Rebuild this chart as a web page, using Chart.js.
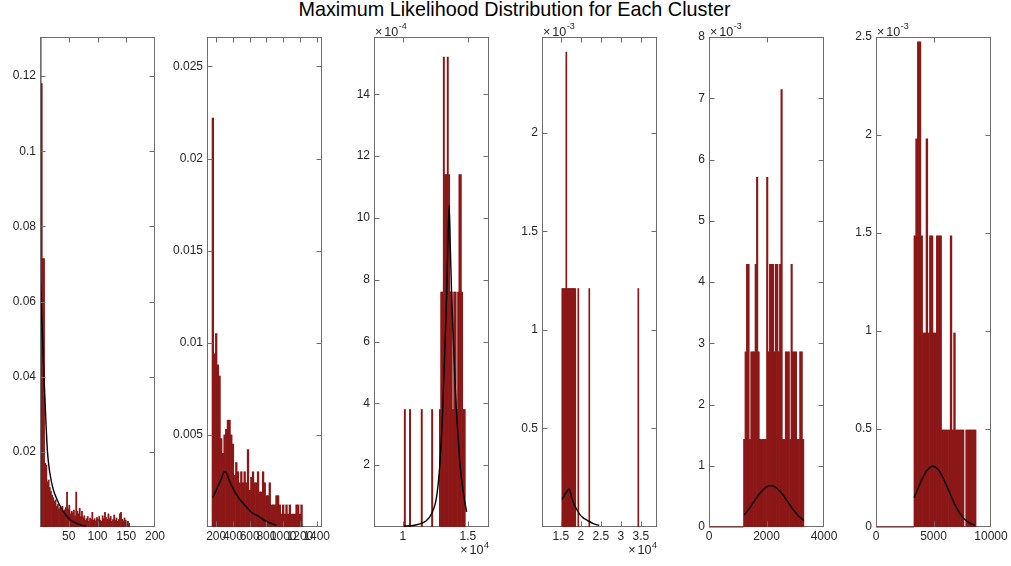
<!DOCTYPE html>
<html><head><meta charset="utf-8">
<script src="https://cdn.jsdelivr.net/npm/chart.js@4.4.1/dist/chart.umd.min.js"></script>
<style>
html,body{margin:0;padding:0;background:#fff;}
#wrap{position:relative;width:1011px;height:566px;overflow:hidden;background:#fff;}
canvas{position:absolute;left:0;top:0;}
#title{position:absolute;left:9px;width:1011px;top:0;text-align:center;font-family:'Liberation Sans',Arial,sans-serif;font-size:19.8px;line-height:19.8px;color:#000;white-space:nowrap;}
</style></head><body>
<div id="wrap">
<div id="title">Maximum Likelihood Distribution for Each Cluster</div>
<canvas id="c1" width="1011" height="566"></canvas>
<canvas id="c2" width="1011" height="566"></canvas>
<canvas id="c3" width="1011" height="566"></canvas>
<canvas id="c4" width="1011" height="566"></canvas>
<canvas id="c5" width="1011" height="566"></canvas>
<canvas id="c6" width="1011" height="566"></canvas>
</div>
<script>
// ---------- Cluster 1 ----------
const p1BinX = [1,3,5,7,9,11,13,15,17,19,21,23,25,27,29,31,33,35,37,39,41,43,45,47,49,51,53,55,57,59,61,63,65,67,69,71,73,75,77,79,81,83,85,87,89,91,93,95,97,99,101,103,105,107,109,111,113,115,117,119,121,123,125,127,129,131,133,135,137,139,141,143,145,147,149,151,153,155];
const p1BinY = [0.14,0.118,0.0714,0.0714,0.017,0.0165,0.012,0.0125,0.0105,0.0095,0.0085,0.0078,0.0068,0.0072,0.0055,0.006,0.0048,0.0052,0.0044,0.0055,0.0038,0.0046,0.0052,0.0093,0.0048,0.0058,0.0035,0.0042,0.0038,0.0045,0.003,0.0093,0.0042,0.0035,0.005,0.0028,0.0042,0.0025,0.003,0.0018,0.0022,0.0028,0.0015,0.0024,0.002,0.0039,0.0018,0.0022,0.0016,0.0025,0.002,0.0028,0.0018,0.0015,0.003,0.0022,0.0039,0.0025,0.002,0.0035,0.0022,0.0028,0.0015,0.002,0.0032,0.0018,0.0024,0.0015,0.002,0.0035,0.0039,0.002,0.0016,0.0024,0.0018,0.0012,0.0015,0.001];
const p1FitX = [0,2,4,7,10,13,17,23,30,37,45,52,60,72,80];
const p1FitY = [0.068,0.060,0.052,0.040,0.029,0.020,0.0145,0.010,0.0072,0.005,0.0032,0.002,0.0012,0.0005,0.0003];
const p1XTicks = [50,100,150,200];
const p1XLabels = ['50','100','150','200'];
const p1YTicks = [0.02,0.04,0.06,0.08,0.1,0.12];
const p1YLabels = ['0.02','0.04','0.06','0.08','0.1','0.12'];

// ---------- Cluster 2 ----------
const p2BinX = [160,180,200,220,240,260,280,300,320,340,360,380,400,420,440,460,480,500,520,540,560,580,600,620,640,660,680,700,720,740,760,780,800,820,840,860,880,900,920,940,960,980,1000,1020,1040,1060,1080,1100,1120,1140,1160,1180,1200,1220];
const p2BinY = [0.0222,0.0094,0.0105,0.0088,0.0082,0.0048,0.004,0.005,0.0053,0.0058,0.0058,0.005,0.0045,0.0028,0.0035,0.003,0.0024,0.003,0.0024,0.003,0.0024,0.0042,0.002,0.0027,0.003,0.0024,0.0024,0.003,0.0019,0.0019,0.003,0.0024,0.0017,0.0017,0.0024,0.0012,0.0012,0.0012,0.0017,0.0017,0.0012,0.0007,0.0012,0.0007,0.0012,0.0007,0.0012,0.0007,0.0007,0.0007,0.0012,0.0012,0.0007,0.0012];
const p2FitX = [160,200,250,300,310,350,400,450,500,560,620,700,800,920];
const p2FitY = [0.0016,0.0020,0.0025,0.0030,0.0030,0.0026,0.0021,0.0017,0.0014,0.0011,0.0008,0.0006,0.0003,0.0001];
const p2XTicks = [200,400,600,800,1000,1200,1400];
const p2XLabels = ['200','400','600','800','1000','1200','1400'];
const p2YTicks = [0.005,0.01,0.015,0.02,0.025];
const p2YLabels = ['0.005','0.01','0.015','0.02','0.025'];

// ---------- Cluster 3 (y in 1e-4) ----------
const p3BinX = [10150,10550,11450,12250,12850,12950,13050,13150,13250,13350,13450,13550,13650,13750,13850,13950,14050,14150,14250,14350,14450,14550,14650,14750];
const p3BinY = [3.8,3.8,3.8,3.8,3.8,7.6,7.6,15.2,11.4,11.4,15.2,11.4,7.6,7.6,3.8,7.6,7.6,3.8,7.6,11.4,11.4,7.6,3.8,3.8];
const p3FitX = [10040,10800,11300,11800,12200,12590,12845,13050,13230,13360,13450,13560,13650,13750,14000,14390,14650,14900];
const p3FitY = [0.03,0.05,0.1,0.2,0.43,0.97,2.05,3.68,5.83,7.45,9.0,10.4,9.0,7.45,4.75,2.05,1.1,0.49];
const p3XTicks = [10000,15000];
const p3XLabels = ['1','1.5'];
const p3YTicks = [2,4,6,8,10,12,14];
const p3YLabels = ['2','4','6','8','10','12','14'];

// ---------- Cluster 4 (y in 1e-3) ----------
const p4BinX = [15375,15625,15875,16125,16375,16625,16875,17125,17375,17625,17875,18125,18375,18625,19375,22125,34375];
const p4BinY = [1.21,1.21,1.21,1.21,2.41,1.21,1.21,1.21,1.21,1.21,1.21,1.21,1.21,1.21,1.21,1.21,1.21];
const p4FitX = [15300,16200,17100,17700,18325,19100,19875,20700,21600,23000,24625];
const p4FitY = [0.14,0.17,0.193,0.15,0.115,0.085,0.06,0.045,0.034,0.018,0.008];
const p4XTicks = [15000,20000,25000,30000,35000];
const p4XLabels = ['1.5','2','2.5','3','3.5'];
const p4YTicks = [0.5,1,1.5,2];
const p4YLabels = ['0.5','1','1.5','2'];

// ---------- Cluster 5 (y in 1e-3) ----------
const p5EmptySpanX = [0,1200];
const p5BinX = [1225,1275,1325,1375,1425,1475,1525,1575,1625,1675,1725,1775,1825,1875,1925,1975,2025,2075,2125,2175,2225,2275,2325,2375,2425,2475,2525,2575,2625,2675,2725,2775,2825,2875,2925,2975,3025,3075,3125,3175,3225,3275];
const p5BinY = [1.43,2.86,4.29,4.29,1.43,2.86,2.86,2.86,4.29,5.71,2.86,1.43,1.43,1.43,1.43,1.43,5.71,2.86,4.29,4.29,4.29,2.86,4.29,4.29,2.86,4.29,7.14,1.43,1.43,2.86,2.86,2.86,1.43,4.29,2.86,2.86,2.86,1.43,1.43,2.86,2.86,1.43];
const p5FitX = [1224,1400,1600,1800,2000,2150,2300,2500,2700,2900,3100,3300];
const p5FitY = [0.20,0.30,0.44,0.567,0.653,0.675,0.653,0.567,0.44,0.30,0.187,0.103];
const p5XTicks = [0,2000,4000];
const p5XLabels = ['0','2000','4000'];
const p5YTicks = [0,1,2,3,4,5,6,7,8];
const p5YLabels = ['0','1','2','3','4','5','6','7','8'];

// ---------- Cluster 6 (y in 1e-3) ----------
const p6EmptySpanX = [0,3300];
const p6BinX = [3375,3525,3675,3825,3975,4125,4275,4425,4575,4725,4875,5025,5175,5325,5475,5625,5775,5925,6075,6225,6375,6525,6675,6825,6975,7125,7275,7425,7575,7725,7875,8025,8175,8325,8475,8625];
const p6BinY = [1.485,1.98,2.475,2.475,1.485,0.99,0.99,1.98,0.99,1.485,1.485,0.99,0.99,1.485,1.485,1.485,0.495,0.495,0.495,0.495,0.495,1.485,0.495,0.99,0.495,0.495,0.495,0.495,0.495,0,0.495,0.495,0.495,0.495,0.495,0.495];
const p6FitX = [3314,3600,4000,4400,4950,5400,5800,6200,6600,7000,7400,7800,8200,8634];
const p6FitY = [0.15,0.189,0.243,0.286,0.31,0.293,0.255,0.203,0.148,0.099,0.061,0.034,0.018,0.008];
const p6XTicks = [0,5000,10000];
const p6XLabels = ['0','5000','10000'];
const p6YTicks = [0,0.5,1,1.5,2,2.5];
const p6YLabels = ['0','0.5','1','1.5','2','2.5'];

// ---------- styling / layout ----------
const BAR = '#8b1717';
const TXT = '#262626';
const FRAME = '#6e6e6e';
const FONT = "'Liberation Sans', Arial, Helvetica, sans-serif";

function zip(xs, ys) { return xs.map((x, i) => ({x: x, y: ys[i]})); }

function drawExp(ctx, x, base, exp, align, raise) {
  ctx.font = "12.6px " + FONT;
  const wx = ctx.measureText('\u00d7').width;
  const w10 = ctx.measureText('10').width;
  ctx.font = "9px " + FONT;
  const we = ctx.measureText(exp).width;
  const gap = 1.8;
  const total = wx + gap + w10 + 0.5 + we;
  const x0 = align === 'right' ? x - total : x;
  ctx.textAlign = 'left';
  ctx.textBaseline = 'alphabetic';
  ctx.font = "12.6px " + FONT;
  ctx.fillText('\u00d7', x0, base);
  ctx.fillText('10', x0 + wx + gap, base);
  ctx.font = "9px " + FONT;
  ctx.fillText(exp, x0 + wx + gap + w10 + 0.5, base - raise);
}

function frameGeom(chart) {
  const a = chart.chartArea;
  return {L: a.left + 0.5, R: a.right - 0.5, T: a.top + 0.5, B: a.bottom - 0.5};
}

const framePlugin = {
  id: 'frame',
  beforeDatasetsDraw(chart) {
    const ctx = chart.ctx, g = frameGeom(chart);
    ctx.save();
    ctx.strokeStyle = FRAME;
    ctx.lineWidth = 1;
    ctx.strokeRect(g.L, g.T, g.R - g.L, g.B - g.T);
    ctx.restore();
  },
  afterDatasetsDraw(chart, args, opts) {
    const ctx = chart.ctx, a = chart.chartArea, xs = chart.scales.x, ys = chart.scales.y;
    const g = frameGeom(chart);
    ctx.save();
    ctx.strokeStyle = FRAME;
    ctx.lineWidth = 1;
    ctx.beginPath();
    ctx.moveTo(g.L, g.B); ctx.lineTo(g.L, g.T); ctx.lineTo(g.R, g.T); ctx.lineTo(g.R, g.B);
    xs.ticks.forEach(t => {
      const px = Math.round(xs.getPixelForValue(t.value)) + 0.5;
      if (px < g.L + 2 || px > g.R - 2) return;
      ctx.moveTo(px, g.B); ctx.lineTo(px, g.B - 5);
      ctx.moveTo(px, g.T); ctx.lineTo(px, g.T + 5);
    });
    ys.ticks.forEach(t => {
      const py = Math.round(ys.getPixelForValue(t.value)) + 0.5;
      if (py < g.T + 2 || py > g.B - 2) return;
      ctx.moveTo(g.L, py); ctx.lineTo(g.L + 5, py);
      ctx.moveTo(g.R, py); ctx.lineTo(g.R - 5, py);
    });
    ctx.stroke();
    ctx.fillStyle = TXT;
    if (opts.yExp) drawExp(ctx, a.left + 1, a.top - 1.5, opts.yExp, 'left', 6.5);
    if (opts.xExp) drawExp(ctx, a.right, a.bottom + 27, opts.xExp, 'right', 6);
    ctx.restore();
  }
};

function panel(id, left, right, d) {
  const yW = 40, xH = 39;
  const tickFont = {family: FONT, size: 12};
  const datasets = [
    {type: 'line', data: zip(d.fitX, d.fitY), borderColor: '#000', borderWidth: 1.4,
     pointRadius: 0, fill: false, order: 0, cubicInterpolationMode: 'monotone'},
    {type: 'bar', data: zip(d.binX, d.binY), backgroundColor: BAR, borderWidth: 0,
     barPercentage: 1, categoryPercentage: 1, order: 2}
  ];
  if (d.emptyX) {
    datasets.push({type: 'line', data: d.emptyX.map(x => ({x: x, y: 0})), borderColor: BAR,
      borderWidth: 1.2, pointRadius: 0, fill: false, order: 1, clip: 2});
  }
  return new Chart(document.getElementById(id), {
    type: 'bar',
    data: {datasets: datasets},
    options: {
      responsive: false, animation: false, devicePixelRatio: 1, events: [],
      layout: {padding: {left: left - yW, right: 1011 - right, top: 37, bottom: 0}},
      plugins: {legend: {display: false}, tooltip: {enabled: false}, title: {display: false},
                frame: {yExp: d.yExp, xExp: d.xExp}},
      scales: {
        x: {
          type: 'linear', min: d.xMin, max: d.xMax, offset: false,
          grid: {display: false, drawTicks: false}, border: {display: false},
          ticks: {autoSkip: false, maxRotation: 0, minRotation: 0, padding: 2, color: TXT, font: tickFont,
                  callback: (v, i) => d.xLabels[i]},
          afterBuildTicks: s => { s.ticks = d.xTicks.map(v => ({value: v})); },
          afterFit: s => { s.height = xH; s.paddingLeft = 0; s.paddingRight = 0; }
        },
        y: {
          type: 'linear', min: d.yMin, max: d.yMax,
          grid: {display: false, drawTicks: false}, border: {display: false},
          ticks: {autoSkip: false, padding: 4, color: TXT, font: tickFont,
                  callback: (v, i) => d.yLabels[i]},
          afterBuildTicks: s => { s.ticks = d.yTicks.map(v => ({value: v})); },
          afterFit: s => { s.width = yW; s.paddingTop = 0; s.paddingBottom = 0; }
        }
      }
    },
    plugins: [framePlugin]
  });
}

panel('c1', 40, 155, {binX: p1BinX, binY: p1BinY, fitX: p1FitX, fitY: p1FitY,
  xTicks: p1XTicks, xLabels: p1XLabels, yTicks: p1YTicks, yLabels: p1YLabels,
  xMin: 0, xMax: 200, yMin: 0, yMax: 0.1304});
panel('c2', 207, 322, {binX: p2BinX, binY: p2BinY, fitX: p2FitX, fitY: p2FitY,
  xTicks: p2XTicks, xLabels: p2XLabels, yTicks: p2YTicks, yLabels: p2YLabels,
  xMin: 90, xMax: 1464, yMin: 0, yMax: 0.0266});
panel('c3', 374, 489, {binX: p3BinX, binY: p3BinY, fitX: p3FitX, fitY: p3FitY,
  xTicks: p3XTicks, xLabels: p3XLabels, yTicks: p3YTicks, yLabels: p3YLabels,
  xMin: 7780, xMax: 16620, yMin: 0, yMax: 15.85, yExp: '-4', xExp: '4'});
panel('c4', 542, 657, {binX: p4BinX, binY: p4BinY, fitX: p4FitX, fitY: p4FitY,
  xTicks: p4XTicks, xLabels: p4XLabels, yTicks: p4YTicks, yLabels: p4YLabels,
  xMin: 10300, xMax: 39050, yMin: 0, yMax: 2.486, yExp: '-3', xExp: '4'});
panel('c5', 709, 824, {binX: p5BinX, binY: p5BinY, fitX: p5FitX, fitY: p5FitY, emptyX: p5EmptySpanX,
  xTicks: p5XTicks, xLabels: p5XLabels, yTicks: p5YTicks, yLabels: p5YLabels,
  xMin: 0, xMax: 4000, yMin: 0, yMax: 8, yExp: '-3'});
panel('c6', 876, 991, {binX: p6BinX, binY: p6BinY, fitX: p6FitX, fitY: p6FitY, emptyX: p6EmptySpanX,
  xTicks: p6XTicks, xLabels: p6XLabels, yTicks: p6YTicks, yLabels: p6YLabels,
  xMin: 0, xMax: 10000, yMin: 0, yMax: 2.5, yExp: '-3'});
</script>
</body></html>
